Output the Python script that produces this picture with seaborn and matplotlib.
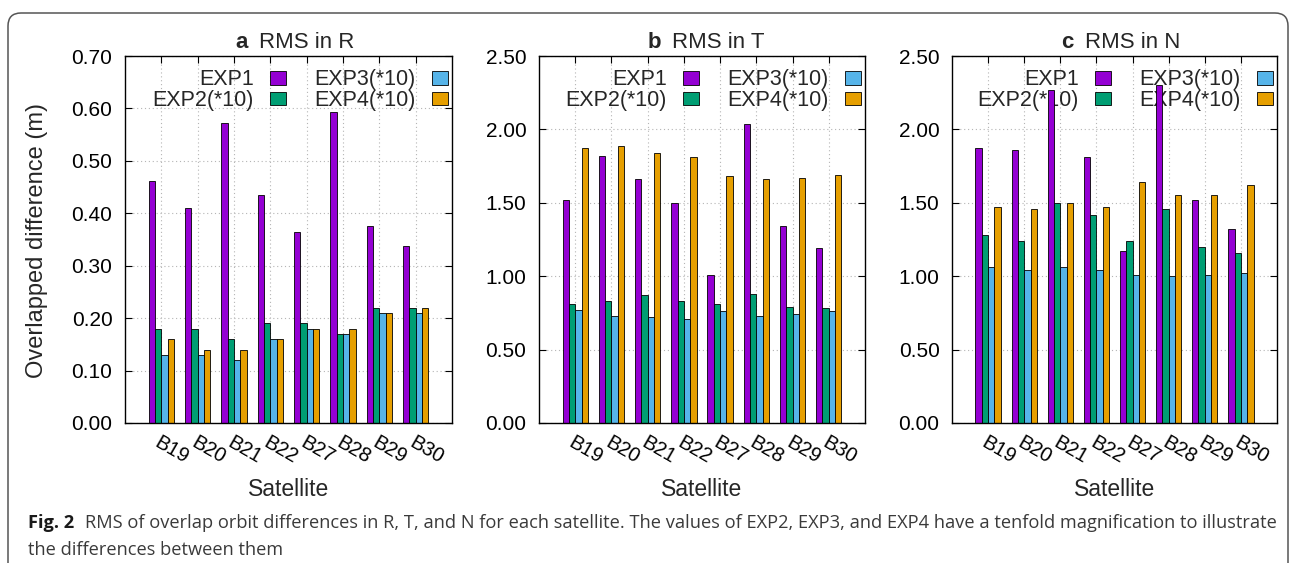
import numpy as np
import pandas as pd
import matplotlib
matplotlib.use("Agg")
import matplotlib.pyplot as plt
import seaborn as sns
from matplotlib.patches import Patch, FancyBboxPatch

# ---------------- data ----------------
satellites = ["B19", "B20", "B21", "B22", "B27", "B28", "B29", "B30"]
experiments = ["EXP1", "EXP2(*10)", "EXP3(*10)", "EXP4(*10)"]

r_exp1 = [0.461, 0.410, 0.573, 0.435, 0.365, 0.593, 0.375, 0.337]
r_exp2 = [0.18, 0.18, 0.16, 0.19, 0.19, 0.17, 0.22, 0.22]
r_exp3 = [0.13, 0.13, 0.12, 0.16, 0.18, 0.17, 0.21, 0.21]
r_exp4 = [0.16, 0.14, 0.14, 0.16, 0.18, 0.18, 0.21, 0.22]

t_exp1 = [1.52, 1.82, 1.66, 1.50, 1.01, 2.04, 1.34, 1.19]
t_exp2 = [0.81, 0.83, 0.87, 0.83, 0.81, 0.88, 0.79, 0.78]
t_exp3 = [0.77, 0.73, 0.72, 0.71, 0.76, 0.73, 0.74, 0.76]
t_exp4 = [1.87, 1.89, 1.84, 1.81, 1.68, 1.66, 1.67, 1.69]

n_exp1 = [1.87, 1.86, 2.27, 1.81, 1.17, 2.30, 1.52, 1.32]
n_exp2 = [1.28, 1.24, 1.50, 1.42, 1.24, 1.46, 1.20, 1.16]
n_exp3 = [1.06, 1.04, 1.06, 1.04, 1.01, 1.00, 1.01, 1.02]
n_exp4 = [1.47, 1.46, 1.50, 1.47, 1.64, 1.55, 1.55, 1.62]

panel_letters = ["a", "b", "c"]
panel_titles = ["RMS in R", "RMS in T", "RMS in N"]
y_max = [0.70, 2.50, 2.50]
y_step = [0.10, 0.50, 0.50]

colors = ["#9400D3", "#009E73", "#56B4E9", "#E69F00"]

caption_bold = "Fig. 2"
caption_line1 = ("RMS of overlap orbit differences in R, T, and N for each satellite. "
                 "The values of EXP2, EXP3, and EXP4 have a tenfold magnification to illustrate")
caption_line2 = "the differences between them"

# ---------------- style ----------------
sns.set_theme(style="ticks")
plt.rcParams["font.family"] = ["Liberation Sans", "DejaVu Sans"]
plt.rcParams["axes.edgecolor"] = "black"
plt.rcParams["axes.linewidth"] = 1.0

W, H = 1293, 563
fig = plt.figure(figsize=(W / 100, H / 100), dpi=100)
fig.patch.set_facecolor("white")


def long_df(series):
    rows = []
    for exp, vals in zip(experiments, series):
        for s, v in zip(satellites, vals):
            rows.append({"Satellite": s, "Experiment": exp, "value": v})
    return pd.DataFrame(rows)


datasets = [
    long_df([r_exp1, r_exp2, r_exp3, r_exp4]),
    long_df([t_exp1, t_exp2, t_exp3, t_exp4]),
    long_df([n_exp1, n_exp2, n_exp3, n_exp4]),
]

axes_px = [(125, 452), (539, 865), (952, 1277)]
top_px, bot_px = 56, 423

for i, df in enumerate(datasets):
    l, r = axes_px[i]
    ax = fig.add_axes([l / W, 1 - bot_px / H, (r - l) / W, (bot_px - top_px) / H])
    sns.barplot(data=df, x="Satellite", y="value", hue="Experiment",
                order=satellites, hue_order=experiments, palette=colors,
                width=0.7, saturation=1, edgecolor="black", linewidth=0.6,
                errorbar=None, legend=False, ax=ax)
    ax.set_xlim(-1.0, 8.0)
    ax.set_ylim(0, y_max[i])
    ax.set_yticks(np.arange(0, y_max[i] + 1e-9, y_step[i]))
    ax.yaxis.set_major_formatter(matplotlib.ticker.FormatStrFormatter("%.2f"))
    ax.set_xticks(range(len(satellites)))
    ax.set_xticklabels(satellites, rotation=-30, ha="left", va="top",
                       rotation_mode="anchor", fontsize=14.5)
    ax.tick_params(axis="both", direction="in", length=5, width=0.8,
                   top=True, right=True, colors="black")
    ax.tick_params(axis="y", labelsize=15, pad=9)
    ax.tick_params(axis="x", pad=7)
    ax.set_axisbelow(True)
    ax.grid(True, linestyle=(0, (1, 2.5)), color="#b5b5b5", linewidth=0.8)
    for sp in ax.spines.values():
        sp.set_visible(True)
        sp.set_color("black")
        sp.set_linewidth(1.0)
    ax.set_xlabel("")
    ax.set_ylabel("")

    # title: bold letter + regular text
    ax.text(0.5 - 41 / (r - l), 1 + 14 / (bot_px - top_px), panel_letters[i],
            transform=ax.transAxes, ha="right", va="center",
            fontsize=16, fontweight="bold")
    ax.text(0.5 - 29.5 / (r - l), 1 + 14 / (bot_px - top_px), panel_titles[i],
            transform=ax.transAxes, ha="left", va="center", fontsize=16)

    # x label
    fig.text((l + r) / 2 / W, 1 - 490 / H, "Satellite", ha="center",
             va="center", fontsize=16.5)

    # legend (text before swatch, like gnuplot)
    handles = [Patch(facecolor=c, edgecolor="black", linewidth=0.6) for c in colors]
    leg = ax.legend(handles, experiments, ncol=2, loc="upper right",
                    bbox_to_anchor=(1.0, 0.975), frameon=False, markerfirst=False,
                    fontsize=15.5, handlelength=0.75, handleheight=0.6,
                    handletextpad=0.75, columnspacing=1.3, labelspacing=-0.02,
                    borderpad=0.2, borderaxespad=0.0)
    leg.set_zorder(0.6)

# y label on first panel
fig.text(37 / W, 1 - 241 / H, "Overlapped difference (m)", rotation=90,
         ha="center", va="center", fontsize=17)

# rounded frame around figure
frame = FancyBboxPatch((0.08, -0.5), 12.80, 5.50 + 0.5,
                       boxstyle="round,pad=0,rounding_size=0.13",
                       transform=fig.dpi_scale_trans, facecolor="none",
                       edgecolor="#555555", linewidth=1.1, clip_on=False)
fig.add_artist(frame)

# caption (fit width to reference)
renderer = fig.canvas.get_renderer()
cap_font = ["Liberation Sans Narrow", "Open Sans", "DejaVu Sans"]


def make_caption(fs):
    t1 = fig.text(28 / W, 1 - 528 / H, caption_bold, fontsize=fs, fontweight="bold",
                  family=cap_font, color="#1a1a1a", va="baseline", ha="left")
    bb = t1.get_window_extent(renderer)
    t2 = fig.text((bb.x1 + 11) / W, 1 - 528 / H, caption_line1, fontsize=fs,
                  family=cap_font, color="#3a3a3a", va="baseline", ha="left")
    t3 = fig.text(28 / W, 1 - 555 / H, caption_line2, fontsize=fs,
                  family=cap_font, color="#3a3a3a", va="baseline", ha="left")
    return [t1, t2, t3], t2.get_window_extent(renderer).x1


texts, right = make_caption(12)
fs = 12 * (1276 - 28) / (right - 28)
for t in texts:
    t.remove()
make_caption(fs)

fig.savefig("out.png", dpi=100, facecolor="white")
